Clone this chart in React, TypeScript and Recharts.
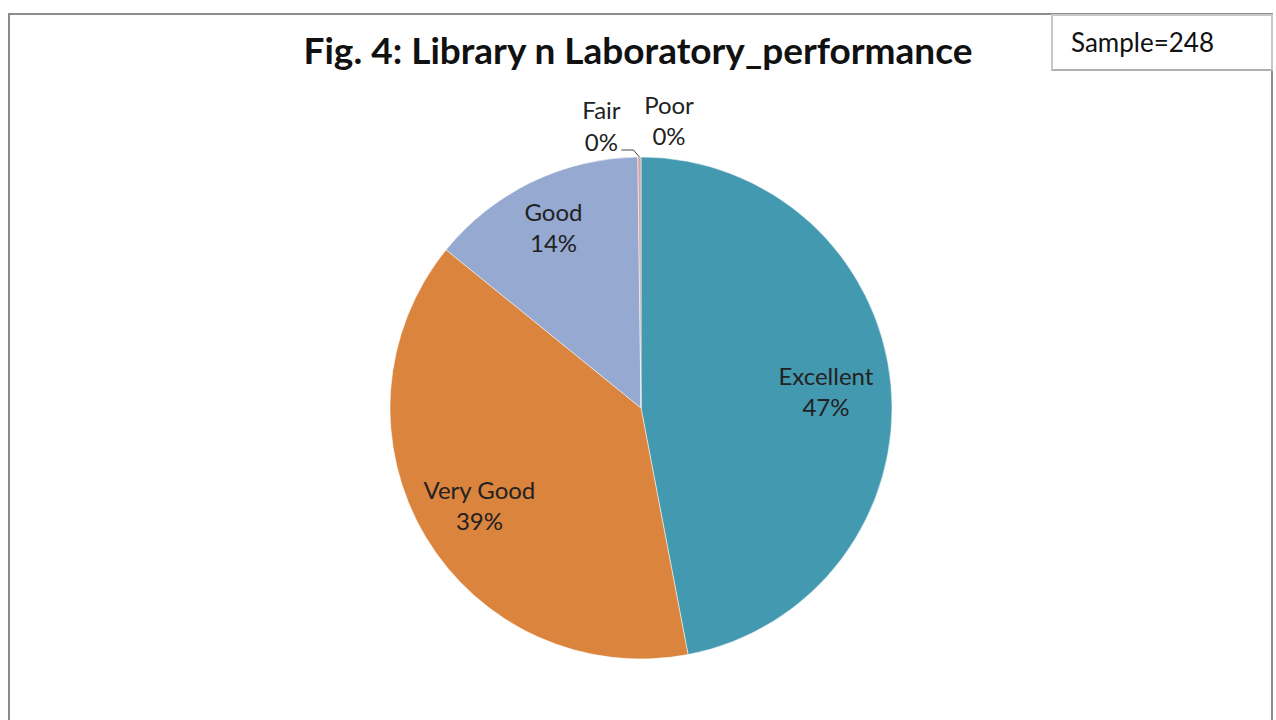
import React from "react";
import { PieChart, Pie, Cell } from "recharts";

const categories = ["Excellent", "Very Good", "Good", "Fair", "Poor"];
const shares = [47.0, 38.85, 13.95, 0.2, 0];
const colors = ["#4399B0", "#DB843D", "#95A9D1", "#D9A3A3", "#A9C76E"];

const data = categories.map((name, i) => ({ name, value: shares[i] }));

const RAD = Math.PI / 180;
const labelFont = "Lato, 'Open Sans', sans-serif";
const labelRadius = [0.74, 0.75, 0.8];

const renderLabel = (props: any) => {
  const { cx, cy, midAngle, outerRadius, percent, index, name } = props;
  const pct = Math.round(percent * 100) + "%";
  const style = { fontFamily: labelFont, fontSize: 24, fill: "#222" };
  if (index < 3) {
    const r = outerRadius * labelRadius[index];
    const x = cx + r * Math.cos(-midAngle * RAD);
    const y = cy + r * Math.sin(-midAngle * RAD);
    return (
      <text key={name} x={x} y={y} textAnchor="middle" style={style}>
        <tspan x={x} dy={-6}>{name}</tspan>
        <tspan x={x} dy={31}>{pct}</tspan>
      </text>
    );
  }
  // tiny slices at the top: labels pushed outside
  const ax = cx + outerRadius * Math.cos(-midAngle * RAD);
  const ay = cy + outerRadius * Math.sin(-midAngle * RAD);
  if (index === 3) {
    const x = ax - 38;
    return (
      <g key={name}>
        <path d={`M ${ax - 18} ${ay - 7} L ${ax - 6} ${ay - 7} L ${ax} ${ay}`} stroke="#444" fill="none" strokeWidth={1} />
        <text x={x} y={ay - 38} textAnchor="middle" style={style}>
          <tspan x={x} dy={0}>{name}</tspan>
          <tspan x={x} dy={32}>{pct}</tspan>
        </text>
      </g>
    );
  }
  const x = ax + 28;
  return (
    <text key={name} x={x} y={ay - 43} textAnchor="middle" style={style}>
      <tspan x={x} dy={0}>{name}</tspan>
      <tspan x={x} dy={31}>{pct}</tspan>
    </text>
  );
};

export default function App() {
  return (
    <div
      style={{
        position: "fixed",
        left: 8,
        top: 13,
        width: 1265,
        height: 720,
        boxSizing: "border-box",
        borderLeft: "2px solid #8c8c8c",
        borderTop: "2px solid #8c8c8c",
        borderRight: "2px solid #8c8c8c",
        background: "#fff",
      }}
    >
      <div
        style={{
          position: "absolute",
          left: 0,
          width: 1256,
          top: 12,
          textAlign: "center",
          fontFamily: "Lato, 'Open Sans', sans-serif",
          fontWeight: 700,
          fontSize: 37,
          color: "#111",
        }}
      >
        Fig. 4: Library n Laboratory_performance
      </div>
      <div
        style={{
          position: "absolute",
          left: 1041,
          top: -1,
          width: 222,
          height: 57,
          boxSizing: "border-box",
          border: "2px solid #c8c8c8",
          borderBottomColor: "#b0b0b0",
          fontFamily: "Lato, 'Open Sans', sans-serif",
          fontSize: 26,
          color: "#111",
          paddingLeft: 18,
          lineHeight: "53px",
        }}
      >
        Sample=248
      </div>
      <PieChart width={1260} height={705}>
        <Pie
          data={data}
          dataKey="value"
          nameKey="name"
          cx={626}
          cy={388}
          outerRadius={251}
          startAngle={90}
          endAngle={-270}
          stroke="#fff"
          strokeWidth={0.5}
          label={renderLabel}
          labelLine={false}
          isAnimationActive={false}
        >
          {data.map((d, i) => (
            <Cell key={d.name} fill={colors[i]} />
          ))}
        </Pie>
      </PieChart>
    </div>
  );
}
